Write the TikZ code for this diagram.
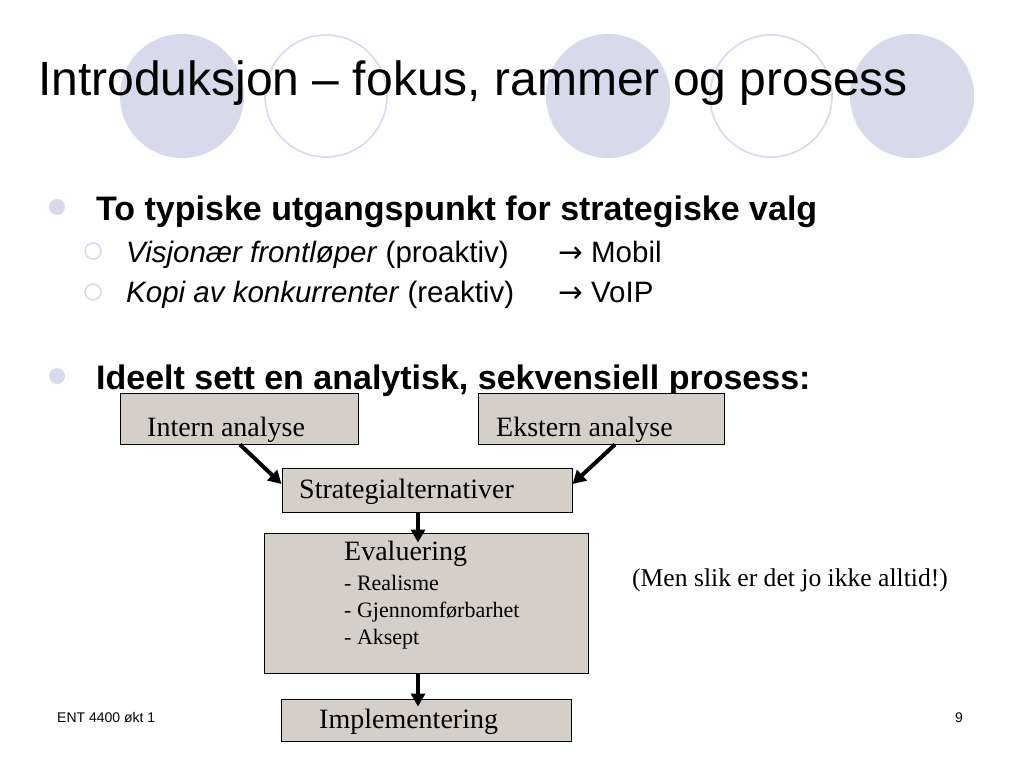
\documentclass[tikz,border=0pt]{standalone}
\usepackage{fontspec}
\setmainfont{Liberation Serif}
\setsansfont{Liberation Sans}
\newfontfamily\arrowfont{DejaVu Sans}
\usepackage{xcolor}
\definecolor{Col1}{RGB}{217,217,236}
\definecolor{Col2}{RGB}{212,208,200}
\usetikzlibrary{arrows.meta}
\tikzstyle{Disc}=[circle,fill=Col1,minimum size=124pt,inner sep=0pt]
\tikzstyle{Ring}=[circle,draw=Col1,line width=1.6pt,minimum size=122pt,inner sep=0pt]
\tikzstyle{Bullet}=[circle,fill=Col1,minimum size=16pt,inner sep=0pt]
\tikzstyle{SubBullet}=[circle,draw=Col1,line width=1.5pt,minimum size=16pt,inner sep=0pt]
\tikzstyle{Title}=[anchor=base west,inner sep=0pt,font=\sffamily\fontsize{48}{56}\selectfont]
\tikzstyle{Point}=[anchor=base west,inner sep=0pt,font=\sffamily\bfseries\fontsize{34}{40}\selectfont]
\tikzstyle{SubPoint}=[anchor=base west,inner sep=0pt,font=\sffamily\fontsize{29.5}{34}\selectfont]
\tikzstyle{Box}=[rectangle,draw=black,fill=Col2,line width=1pt,inner sep=0pt]
\tikzstyle{BoxText}=[anchor=base west,inner sep=0pt,font=\rmfamily\fontsize{28}{32}\selectfont]
\tikzstyle{BoxSub}=[anchor=base west,inner sep=0pt,font=\rmfamily\fontsize{22}{26}\selectfont]
\tikzstyle{Foot}=[anchor=base west,inner sep=0pt,font=\sffamily\fontsize{14}{16}\selectfont]
\tikzstyle{Edge}=[line width=4pt,-{Triangle[length=13pt,width=14pt]}]

\begin{document}
\begin{tikzpicture}[x=1pt,y=-1pt]
            \useasboundingbox[fill=white](0,0)rectangle(1024,768);
            \node[Disc](c1)at(182,96){};
            \node[Ring](c2)at(326,96){};
            \node[Disc](c3)at(608,96){};
            \node[Ring](c4)at(771,96){};
            \node[Disc](c5)at(912,96){};
            \node[Title](title)at(38,95)
                {Introduksjon -- fokus, rammer og prosess};
            \node[Bullet](b1)at(57,207){};
            \node[Point](p1)at(96,220)
                {To typiske utgangspunkt for strategiske valg};
            \node[SubBullet](s1)at(93,251){};
            \node[SubPoint](q1)at(126,262)
                {\textit{Visjonær frontløper} (proaktiv)};
            \node[SubPoint](m1)at(558,262){{\arrowfont →} Mobil};
            \node[SubBullet](s2)at(93,292){};
            \node[SubPoint](q2)at(126,302)
                {\textit{Kopi av konkurrenter} (reaktiv)};
            \node[SubPoint](m2)at(558,302){{\arrowfont →} VoIP};
            \node[Bullet](b2)at(57,376){};
            \node[Point](p2)at(96,389)
                {Ideelt sett en analytisk, sekvensiell prosess:};
            \node[Box,minimum width=238pt,minimum height=51pt](intern)at(239,418.5){};
            \node[BoxText](tintern)at(147,436){Intern analyse};
            \node[Box,minimum width=246pt,minimum height=51pt](ekstern)at(601,418.5){};
            \node[BoxText](tekstern)at(496,436){Ekstern analyse};
            \node[Box,minimum width=290pt,minimum height=44pt](strat)at(427,490){};
            \node[BoxText](tstrat)at(299,498){Strategialternativer};
            \node[Box,minimum width=324pt,minimum height=140pt](eval)at(426,603){};
            \node[BoxText](teval)at(344,560){Evaluering};
            \node[BoxSub](e1)at(344,590){- Realisme};
            \node[BoxSub](e2)at(344,617){- Gjennomførbarhet};
            \node[BoxSub](e3)at(344,644){- Aksept};
            \node[Box,minimum width=290pt,minimum height=42pt](impl)at(426,720){};
            \node[BoxText](timpl)at(319,728){Implementering};
            \node[BoxText,font=\rmfamily\fontsize{25.6}{30}\selectfont](note)at(632,586)
                {(Men slik er det jo ikke alltid!)};
            \node[Foot](foot)at(57,722){ENT 4400 økt 1};
            \node[Foot](page)at(955,722){9};
            \draw[Edge]([xshift=1pt]intern.south)--([yshift=6pt]strat.west);
            \draw[Edge]([xshift=14pt]ekstern.south)--([yshift=6pt]strat.east);
            \draw[Edge]([xshift=-9pt]strat.south)--([xshift=-8pt,yshift=-10pt]eval.north);
            \draw[Edge]([xshift=-8pt]eval.south)--([xshift=-8pt,yshift=-8pt]impl.north);
        \end{tikzpicture}
\end{document}
